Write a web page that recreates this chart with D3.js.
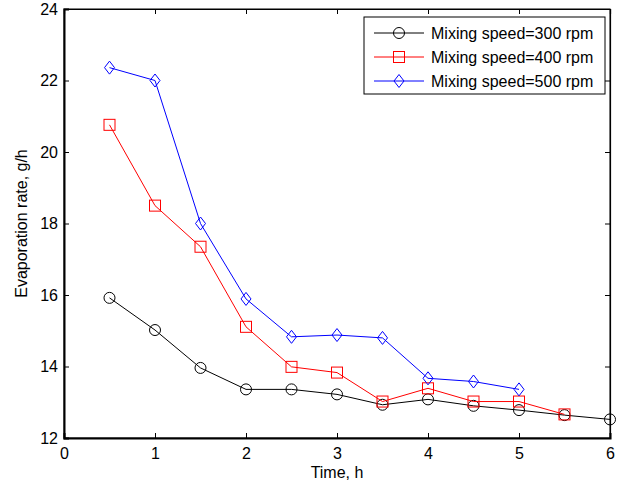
<!DOCTYPE html>
<html><head><meta charset="utf-8">
<script src="https://cdn.jsdelivr.net/npm/d3@7"></script>
<style>body{margin:0;background:#fff}svg{display:block;font-family:"Liberation Sans",Arial,sans-serif}</style>
</head><body><svg id="c" width="620" height="484"></svg>
<script>
const xTicks = [0,1,2,3,4,5,6];
const yTicks = [12,14,16,18,20,22,24];
const time300 = [0.5,1,1.5,2,2.5,3,3.5,4,4.5,5,5.5,6];
const rate300 = [15.92,15.02,13.96,13.36,13.36,13.22,12.93,13.08,12.9,12.78,12.64,12.52];
const time400 = [0.5,1,1.5,2,2.5,3,3.5,4,4.5,5,5.5];
const rate400 = [20.76,18.5,17.35,15.11,13.99,13.83,13.02,13.39,13.02,13.02,12.66];
const time500 = [0.5,1,1.5,2,2.5,3,3.5,4,4.5,5];
const rate500 = [22.36,22.0,18.0,15.89,14.83,14.88,14.8,13.67,13.58,13.36];
const labels = ["Mixing speed=300 rpm","Mixing speed=400 rpm","Mixing speed=500 rpm"];
const colors = ["#000000","#ff0000","#0000ff"];
const markers = ["circle","square","diamond"];

const svg = d3.select("#c");
const L=64,R=610,T=9,B=438;
const FS=16;
const x = d3.scaleLinear().domain([0,6]).range([L,R]);
const y = d3.scaleLinear().domain([12,24]).range([B,T]);

svg.append("rect").attr("x",L).attr("y",T).attr("width",R-L).attr("height",B-T)
  .attr("fill","none").attr("stroke","#000").attr("stroke-width",1);

const tl=5;
const gx = svg.append("g").attr("transform",`translate(0,${B})`)
  .call(d3.axisBottom(x).tickValues(xTicks).tickSize(-tl).tickPadding(10).tickFormat(d3.format("d")));
const gxt = svg.append("g").attr("transform",`translate(0,${T})`)
  .call(d3.axisTop(x).tickValues(xTicks).tickSize(-tl).tickFormat(""));
const gy = svg.append("g").attr("transform",`translate(${L},0)`)
  .call(d3.axisLeft(y).tickValues(yTicks).tickSize(-tl).tickPadding(6).tickFormat(d3.format("d")));
const gyr = svg.append("g").attr("transform",`translate(${R},0)`)
  .call(d3.axisRight(y).tickValues(yTicks).tickSize(-tl).tickFormat(""));
[gx,gxt,gy,gyr].forEach(g=>{
  g.select(".domain").attr("stroke","#000").attr("stroke-width",1.2);
  g.selectAll("text").attr("font-size",FS).attr("fill","#000").attr("font-family","Liberation Sans, Arial, sans-serif");
  g.selectAll("line").attr("stroke","#000");
});
gx.select(".domain").attr("stroke-width",2);
gy.select(".domain").attr("stroke-width",2);

svg.append("text").attr("x",(L+R)/2).attr("y",478).attr("text-anchor","middle")
  .attr("font-size",FS).text("Time, h");
svg.append("text").attr("transform",`translate(27,${(T+B)/2}) rotate(-90)`).attr("text-anchor","middle")
  .attr("font-size",FS).text("Evaporation rate, g/h");

function marker(g,type,cx,cy,color){
  if(type==="circle") g.append("circle").attr("cx",cx).attr("cy",cy).attr("r",5.5).attr("fill","none").attr("stroke",color);
  else if(type==="square") g.append("rect").attr("x",cx-5.5).attr("y",cy-5.5).attr("width",11).attr("height",11).attr("fill","none").attr("stroke",color);
  else g.append("path").attr("d",`M${cx},${cy-6.5}L${cx+5},${cy}L${cx},${cy+6.5}L${cx-5},${cy}Z`).attr("fill","none").attr("stroke",color);
}

const series=[[time300,rate300],[time400,rate400],[time500,rate500]];
const line=d3.line().x(d=>x(d[0])).y(d=>y(d[1]));
series.forEach(([t,r],i)=>{
  const data=t.map((v,j)=>[v,r[j]]);
  const g=svg.append("g");
  g.append("path").datum(data).attr("d",line).attr("fill","none").attr("stroke",colors[i]).attr("stroke-width",1);
  data.forEach(d=>marker(g,markers[i],x(d[0]),y(d[1]),colors[i]));
});

const lg=svg.append("g");
lg.append("rect").attr("x",364).attr("y",17).attr("width",241).attr("height",77).attr("fill","#fff").attr("stroke","#000");
labels.forEach((lab,i)=>{
  const yy=33+i*24;
  lg.append("line").attr("x1",374).attr("x2",424).attr("y1",yy).attr("y2",yy).attr("stroke",colors[i]);
  marker(lg,markers[i],399,yy,colors[i]);
  lg.append("text").attr("x",431).attr("y",yy+5.5).attr("font-size",FS).text(lab);
});
</script></body></html>
